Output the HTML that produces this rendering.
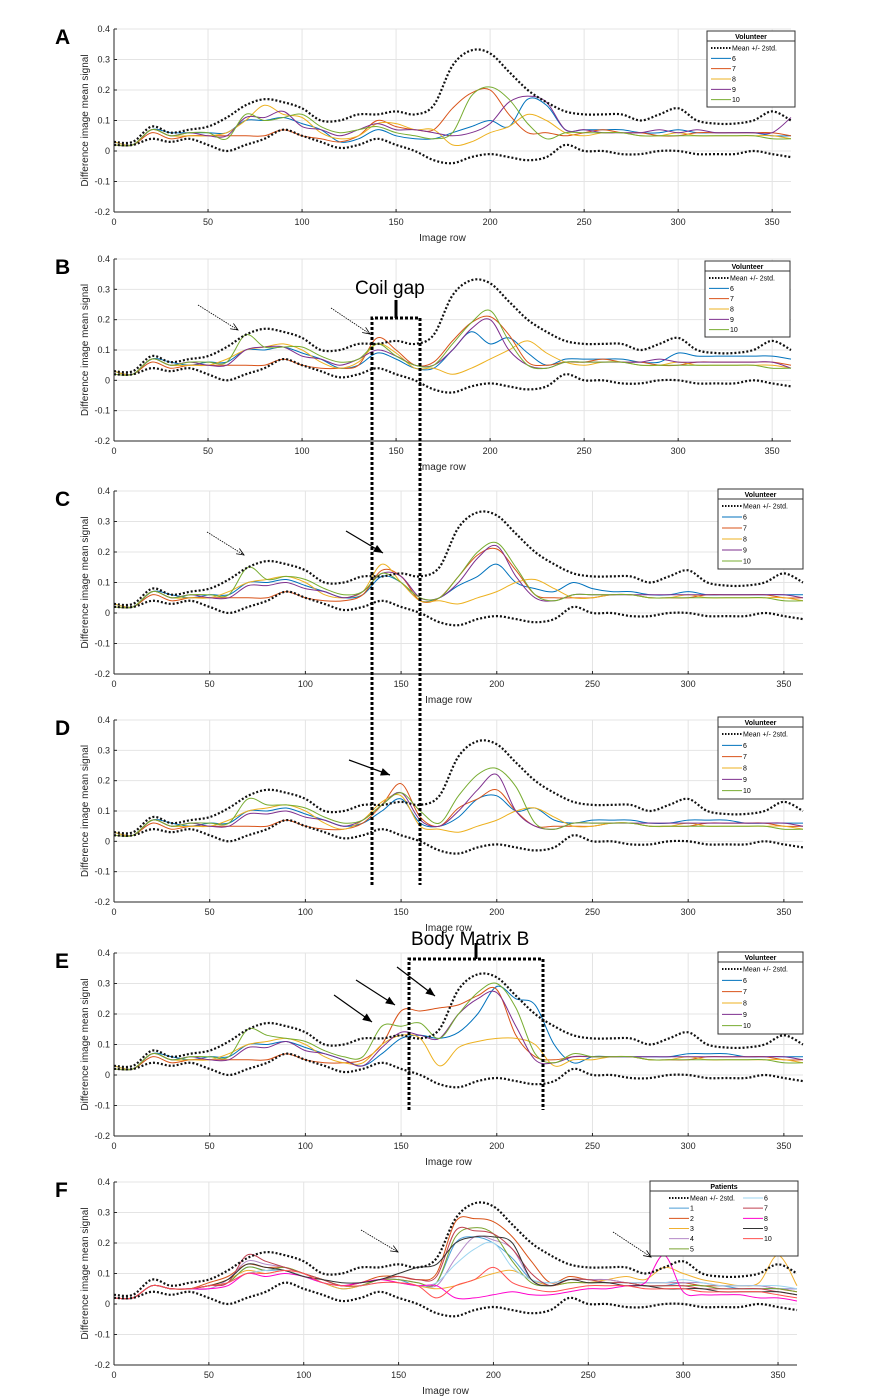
<!DOCTYPE html>
<html><head><meta charset="utf-8"><style>
html,body{margin:0;padding:0;background:#fff;}
svg{display:block;font-family:"Liberation Sans",sans-serif;}
</style></head><body>
<svg id="fig" width="889" height="1400" viewBox="0 0 889 1400"></svg>
<script>
// ---- data (values sampled every 10 image rows, 0..360) ----
const rows = [0,10,20,30,40,50,60,70,80,90,100,110,120,130,140,150,160,170,180,190,200,210,220,230,240,250,260,270,280,290,300,310,320,330,340,350,360];
const xTicks = [0,50,100,150,200,250,300,350];
const yTicks = [0.4,0.3,0.2,0.1,0,-0.1,-0.2];
const yTickLabels = ["0.4","0.3","0.2","0.1","0","-0.1","-0.2"];
const meanUpper = [.03,.03,.08,.06,.07,.08,.11,.15,.17,.16,.14,.10,.10,.12,.12,.13,.12,.15,.28,.33,.32,.26,.20,.16,.13,.12,.12,.12,.10,.12,.14,.10,.09,.09,.10,.13,.10];
const meanLower = [.02,.02,.04,.03,.04,.02,.00,.02,.04,.07,.05,.03,.01,.02,.04,.02,.00,-.03,-.04,-.02,-.01,-.02,-.03,-.02,.02,.00,.00,-.01,-.01,.00,.00,-.01,-.01,-.01,.00,-.01,-.02];
const volunteerLabels = ["6","7","8","9","10"];
const patientLabels = ["1","2","3","4","5","6","7","8","9","10"];
const volColors = ["#0072BD","#D95319","#EDB120","#7E2F8E","#77AC30"];
const patColors = ["#4a9ed8","#d95319","#f0b030","#b48ac8","#7aa330","#9dd5f0","#c04050","#ff00cc","#333333","#ff5050"];

const A6 = [.03,.02,.07,.06,.06,.06,.06,.10,.10,.11,.09,.07,.03,.04,.07,.05,.04,.04,.06,.08,.10,.08,.17,.15,.07,.07,.07,.07,.06,.06,.07,.06,.06,.06,.06,.05,.05];
const A7 = [.02,.02,.06,.04,.05,.05,.05,.05,.05,.07,.05,.04,.03,.05,.10,.08,.07,.07,.14,.19,.20,.12,.06,.06,.05,.06,.07,.06,.06,.05,.05,.06,.06,.06,.06,.06,.05];
const A8 = [.03,.02,.07,.05,.05,.05,.06,.10,.15,.12,.11,.06,.04,.05,.09,.09,.07,.07,.02,.03,.06,.08,.12,.10,.06,.05,.06,.06,.05,.05,.06,.05,.05,.05,.05,.05,.04];
const A9 = [.02,.02,.07,.05,.06,.05,.05,.11,.11,.13,.08,.07,.05,.07,.09,.07,.07,.06,.05,.06,.09,.16,.18,.16,.07,.07,.06,.06,.06,.07,.06,.07,.06,.06,.06,.06,.11];
const A10= [.02,.02,.07,.05,.06,.06,.04,.12,.10,.11,.12,.08,.06,.07,.08,.06,.05,.04,.06,.18,.21,.17,.09,.04,.06,.06,.06,.06,.05,.05,.05,.05,.05,.05,.05,.04,.04];

const B6 = [.03,.02,.07,.06,.05,.06,.06,.10,.10,.11,.09,.07,.04,.05,.09,.07,.04,.04,.10,.16,.12,.14,.09,.05,.07,.07,.07,.07,.06,.06,.09,.08,.08,.08,.08,.08,.07];
const B7 = [.02,.02,.06,.04,.05,.05,.05,.05,.05,.07,.05,.04,.04,.05,.14,.10,.05,.06,.13,.19,.21,.15,.06,.05,.06,.06,.07,.06,.06,.05,.05,.06,.06,.06,.06,.06,.05];
const B8 = [.03,.02,.07,.05,.05,.05,.07,.10,.11,.12,.10,.06,.04,.06,.12,.09,.04,.04,.02,.04,.07,.10,.13,.09,.06,.05,.06,.06,.05,.05,.06,.05,.05,.05,.05,.05,.04];
const B9 = [.02,.02,.07,.05,.06,.05,.05,.10,.11,.11,.08,.07,.05,.07,.10,.08,.05,.05,.10,.17,.20,.10,.05,.04,.06,.06,.06,.06,.06,.07,.06,.06,.06,.06,.06,.06,.04];
const B10= [.02,.02,.07,.05,.06,.06,.06,.15,.11,.11,.11,.08,.06,.07,.12,.08,.05,.05,.12,.19,.23,.13,.05,.04,.06,.06,.06,.06,.05,.05,.05,.05,.05,.05,.05,.04,.04];

const C6 = [.03,.02,.07,.06,.05,.06,.06,.10,.10,.11,.09,.07,.05,.06,.12,.10,.04,.05,.09,.12,.16,.10,.08,.07,.10,.08,.07,.07,.06,.06,.07,.06,.06,.06,.06,.06,.06];
const C7 = [.02,.02,.06,.04,.05,.05,.05,.05,.05,.07,.05,.04,.04,.06,.14,.12,.04,.05,.12,.19,.21,.14,.06,.05,.05,.05,.06,.06,.05,.05,.05,.06,.06,.06,.06,.05,.05];
const C8 = [.03,.02,.07,.05,.05,.05,.07,.10,.11,.12,.10,.06,.05,.07,.16,.10,.04,.04,.03,.05,.07,.10,.11,.08,.05,.05,.06,.06,.05,.05,.06,.05,.05,.05,.05,.05,.04];
const C9 = [.02,.02,.07,.05,.06,.05,.05,.09,.09,.10,.08,.07,.05,.07,.13,.12,.05,.05,.10,.18,.22,.12,.05,.04,.06,.06,.06,.06,.06,.06,.06,.06,.06,.06,.06,.06,.05];
const C10= [.02,.02,.07,.05,.06,.06,.06,.15,.11,.12,.11,.08,.06,.07,.13,.10,.05,.05,.12,.20,.23,.15,.06,.04,.06,.06,.06,.06,.05,.05,.05,.05,.05,.05,.05,.04,.04];

const D6 = [.03,.02,.07,.06,.05,.06,.06,.10,.10,.11,.09,.07,.05,.06,.10,.14,.06,.05,.08,.14,.15,.10,.11,.07,.06,.07,.07,.07,.06,.06,.07,.07,.07,.06,.06,.06,.06];
const D7 = [.02,.02,.06,.04,.05,.05,.05,.05,.05,.07,.05,.04,.04,.06,.12,.19,.08,.05,.11,.14,.17,.10,.05,.05,.05,.05,.06,.06,.05,.05,.05,.06,.06,.06,.06,.05,.05];
const D8 = [.03,.02,.07,.05,.05,.05,.07,.10,.11,.12,.10,.06,.04,.07,.13,.15,.05,.04,.03,.05,.07,.10,.11,.08,.05,.05,.06,.06,.05,.05,.06,.05,.05,.05,.05,.05,.04];
const D9 = [.02,.02,.07,.05,.06,.05,.05,.09,.09,.10,.08,.07,.05,.07,.12,.16,.07,.05,.10,.17,.22,.10,.05,.04,.06,.06,.06,.06,.06,.06,.06,.06,.06,.06,.06,.06,.05];
const D10= [.02,.02,.07,.05,.06,.06,.06,.14,.12,.12,.11,.08,.06,.07,.12,.16,.10,.06,.15,.22,.24,.18,.06,.04,.06,.06,.06,.06,.05,.05,.05,.05,.05,.05,.05,.04,.04];

const E6 = [.03,.02,.07,.06,.05,.06,.06,.10,.10,.11,.09,.07,.05,.03,.07,.12,.13,.12,.14,.20,.29,.25,.23,.10,.04,.06,.06,.06,.06,.06,.07,.07,.07,.06,.06,.06,.06];
const E7 = [.02,.02,.06,.04,.05,.05,.05,.05,.05,.07,.05,.04,.04,.05,.10,.21,.21,.22,.23,.26,.28,.13,.06,.05,.06,.06,.06,.06,.05,.05,.05,.06,.06,.06,.06,.05,.05];
const E8 = [.03,.02,.07,.05,.05,.05,.07,.10,.11,.12,.10,.06,.04,.04,.10,.13,.12,.03,.09,.11,.12,.12,.10,.03,.05,.05,.06,.06,.05,.05,.06,.05,.05,.05,.05,.05,.04];
const E9 = [.02,.02,.07,.05,.06,.05,.05,.09,.09,.11,.08,.07,.05,.03,.09,.14,.13,.12,.20,.25,.27,.16,.05,.04,.06,.06,.06,.06,.06,.06,.06,.06,.06,.06,.06,.06,.05];
const E10= [.02,.02,.07,.05,.06,.06,.06,.15,.13,.12,.11,.08,.06,.06,.16,.16,.17,.12,.20,.27,.30,.22,.07,.04,.07,.06,.06,.06,.05,.05,.05,.05,.05,.05,.05,.04,.04];

const F1 = [.02,.02,.06,.05,.05,.06,.07,.12,.11,.11,.09,.07,.05,.06,.08,.08,.06,.07,.20,.22,.20,.15,.08,.07,.08,.08,.07,.07,.06,.06,.07,.06,.06,.05,.05,.05,.05];
const F2 = [.02,.02,.06,.05,.05,.07,.09,.13,.12,.12,.10,.08,.06,.07,.09,.09,.08,.10,.27,.28,.27,.22,.14,.07,.09,.08,.08,.07,.07,.07,.07,.06,.06,.06,.06,.05,.04];
const F3 = [.02,.02,.06,.05,.05,.06,.08,.11,.10,.11,.09,.07,.05,.06,.08,.07,.06,.05,.06,.08,.10,.11,.08,.06,.07,.07,.08,.09,.08,.12,.10,.08,.07,.06,.07,.16,.06];
const F4 = [.02,.02,.06,.05,.05,.05,.08,.14,.13,.12,.10,.07,.06,.06,.08,.08,.07,.06,.15,.22,.21,.18,.08,.06,.08,.08,.08,.07,.07,.07,.07,.07,.06,.06,.06,.05,.05];
const F5 = [.02,.02,.06,.05,.05,.06,.07,.12,.11,.12,.10,.08,.06,.06,.08,.08,.07,.07,.22,.25,.23,.14,.07,.06,.07,.07,.07,.07,.06,.06,.06,.06,.05,.05,.05,.05,.04];
const F6 = [.02,.02,.06,.05,.05,.06,.07,.10,.11,.11,.09,.07,.06,.06,.07,.07,.06,.07,.13,.18,.20,.12,.08,.07,.08,.08,.07,.07,.07,.07,.08,.07,.06,.06,.06,.06,.05];
const F7 = [.02,.02,.06,.05,.05,.06,.07,.16,.14,.12,.10,.08,.06,.07,.08,.09,.08,.09,.24,.24,.23,.18,.10,.06,.08,.08,.07,.07,.06,.06,.06,.05,.05,.05,.05,.04,.03];
const F8 = [.02,.02,.06,.05,.05,.05,.06,.10,.09,.10,.09,.07,.06,.07,.08,.07,.06,.06,.02,.02,.03,.04,.03,.03,.04,.05,.05,.06,.07,.16,.04,.03,.03,.03,.02,.02,.01];
const F9 = [.02,.02,.06,.05,.05,.06,.08,.13,.12,.11,.09,.08,.07,.07,.08,.10,.12,.13,.20,.22,.22,.20,.08,.06,.08,.07,.07,.06,.06,.05,.05,.05,.04,.04,.04,.04,.03];
const F10= [.02,.02,.06,.05,.05,.06,.07,.10,.10,.11,.10,.07,.06,.06,.07,.07,.06,.02,.06,.08,.12,.07,.05,.04,.05,.06,.06,.06,.05,.05,.05,.04,.04,.04,.04,.03,.02];

const panels = [
 {id:"a", letter:"A", top:29, bottom:212, right:791, legend:[707,31,88,76], title:"Volunteer", series:[A6,A7,A8,A9,A10], labels:volunteerLabels, colors:volColors},
 {id:"b", letter:"B", top:259, bottom:441, right:791, legend:[705,261,85,76], title:"Volunteer", series:[B6,B7,B8,B9,B10], labels:volunteerLabels, colors:volColors},
 {id:"c", letter:"C", top:491, bottom:674, right:803, legend:[718,489,85,80], title:"Volunteer", series:[C6,C7,C8,C9,C10], labels:volunteerLabels, colors:volColors},
 {id:"d", letter:"D", top:720, bottom:902, right:803, legend:[718,717,85,82], title:"Volunteer", series:[D6,D7,D8,D9,D10], labels:volunteerLabels, colors:volColors},
 {id:"e", letter:"E", top:953, bottom:1136, right:803, legend:[718,952,85,82], title:"Volunteer", series:[E6,E7,E8,E9,E10], labels:volunteerLabels, colors:volColors},
 {id:"f", letter:"F", top:1182, bottom:1365, right:797, legend:[650,1181,148,75], title:"Patients", series:[F1,F2,F3,F4,F5,F6,F7,F8,F9,F10], labels:patientLabels, colors:patColors}
];

const NS="http://www.w3.org/2000/svg";
const svg=document.getElementById('fig');
function mk(tag,attrs,parent){const e=document.createElementNS(NS,tag);for(const k in attrs)e.setAttribute(k,attrs[k]);(parent||svg).appendChild(e);return e;}
function smoothPath(pts){
 let d="M"+pts[0][0].toFixed(1)+","+pts[0][1].toFixed(1);
 for(let i=0;i<pts.length-1;i++){
  const p0=pts[Math.max(0,i-1)],p1=pts[i],p2=pts[i+1],p3=pts[Math.min(pts.length-1,i+2)];
  const c1x=p1[0]+(p2[0]-p0[0])/6,c1y=p1[1]+(p2[1]-p0[1])/6,c2x=p2[0]-(p3[0]-p1[0])/6,c2y=p2[1]-(p3[1]-p1[1])/6;
  d+=" C"+c1x.toFixed(1)+","+c1y.toFixed(1)+" "+c2x.toFixed(1)+","+c2y.toFixed(1)+" "+p2[0].toFixed(1)+","+p2[1].toFixed(1);
 }
 return d;
}

panels.forEach(p=>{
 const L=114;
 const xs=v=>L+(v/360)*(p.right-L);
 const ys=v=>p.top+(0.4-v)/0.6*(p.bottom-p.top);
 const g=mk('g',{});
 
 
 const lt=mk('text',{x:55,y:p.top+15,'font-size':21,'font-weight':'bold'},g);
 lt.textContent=p.letter;
 
 
 // grid
 xTicks.forEach(t=>{mk('line',{x1:xs(t),x2:xs(t),y1:p.top,y2:p.bottom,stroke:'#e4e4e4','stroke-width':1},g);});
 yTicks.forEach(t=>{mk('line',{x1:L,x2:p.right,y1:ys(t),y2:ys(t),stroke:'#e4e4e4','stroke-width':1},g);});
 // axes
 mk('line',{x1:L,x2:L,y1:p.top,y2:p.bottom,stroke:'#262626','stroke-width':1},g);
 mk('line',{x1:L,x2:p.right,y1:p.bottom,y2:p.bottom,stroke:'#262626','stroke-width':1},g);
 xTicks.forEach(t=>{
  mk('line',{x1:xs(t),x2:xs(t),y1:p.bottom,y2:p.bottom-3,stroke:'#262626'},g);
  const tx=mk('text',{x:xs(t),y:p.bottom+13,'font-size':9,'text-anchor':'middle',fill:'#262626'},g);
  tx.textContent=String(t);
  
  
 });
 yTicks.forEach((t,i)=>{
  mk('line',{x1:L,x2:L+3,y1:ys(t),y2:ys(t),stroke:'#262626'},g);
  const ty=mk('text',{x:L-4,y:ys(t)+3,'font-size':9,'text-anchor':'end',fill:'#262626'},g);
  ty.textContent=yTickLabels[i];
  
  
 });
 const xl=mk('text',{x:(L+p.right)/2-10,y:p.bottom+29,'font-size':10,'text-anchor':'middle',fill:'#262626'},g);
 xl.textContent="Image row";
 
 
 const yc=(p.top+p.bottom)/2;
 const yl=mk('text',{x:88,y:yc,'font-size':10,'text-anchor':'middle',fill:'#262626',transform:'rotate(-90 88 '+yc+')'},g);
 yl.textContent="Difference image mean signal";
 
 
 // series
 p.series.forEach((s,i)=>{
  const path=mk('path',{d:smoothPath(rows.map((r,k)=>[xs(r),ys(s[k])])),fill:'none',stroke:p.colors[i],'stroke-width':1},g);
  
  
 });
 [meanUpper,meanLower].forEach((s,i)=>{
  const path=mk('path',{d:smoothPath(rows.map((r,k)=>[xs(r),ys(s[k])])),fill:'none',stroke:'#111','stroke-width':2.2,'stroke-dasharray':'2 2'},g);
  
  
 });
 // legend
 const [lx,ly,lw,lh]=p.legend;
 const lg=mk('g',{},g);
 
 
 mk('rect',{x:lx,y:ly,width:lw,height:lh,fill:'#fff',stroke:'#333','stroke-width':1},lg);
 mk('line',{x1:lx,x2:lx+lw,y1:ly+10,y2:ly+10,stroke:'#333'},lg);
 const tt=mk('text',{x:lx+lw/2,y:ly+8,'font-size':7,'font-weight':'bold','text-anchor':'middle'},lg);
 tt.textContent=p.title;
 const entries=["Mean +/- 2std."].concat(p.labels);
 const colors=["#111"].concat(p.colors);
 const twoCol=entries.length>6;
 const perCol=twoCol?6:entries.length;
 entries.forEach((e,i)=>{
  const col=twoCol?Math.floor(i/perCol):0, r=twoCol?i%perCol:i;
  const ex=lx+4+col*(lw/2)+(twoCol?15:0), ey=ly+17+r*(lh-14)/perCol;
  mk('line',{x1:ex,x2:ex+20,y1:ey,y2:ey,stroke:colors[i],'stroke-width':i?1:2,'stroke-dasharray':i?'none':'1.5 1.5'},lg);
  const et=mk('text',{x:ex+21,y:ey+2.5,'font-size':7},lg);
  et.textContent=e;
  
  
 });
});

// annotations
function arrow(x1,y1,x2,y2,dotted){
 const g=mk('g',{});
 
 
 mk('line',{x1:x1,y1:y1,x2:x2,y2:y2,stroke:'#000','stroke-width':dotted?0.8:1.2,'stroke-dasharray':dotted?'1.5 1':'none'},g);
 const a=Math.atan2(y2-y1,x2-x1),s=dotted?8:10;
 const p1=[x2-s*Math.cos(a-0.4),y2-s*Math.sin(a-0.4)],p2=[x2-s*Math.cos(a+0.4),y2-s*Math.sin(a+0.4)];
 if(dotted) mk('polyline',{points:p1.join(',')+' '+x2+','+y2+' '+p2.join(','),fill:'none',stroke:'#000','stroke-width':0.8},g);
 else mk('polygon',{points:p1.join(',')+' '+x2+','+y2+' '+p2.join(','),fill:'#000'},g);
}
arrow(198,305,238,330,true);arrow(331,308,370,334,true);
arrow(207,532,244,555,true);arrow(346,531,383,553,false);
arrow(349,760,390,775,false);
arrow(334,995,372,1022,false);arrow(356,980,395,1005,false);arrow(397,967,435,996,false);
arrow(361,1230,398,1252,true);arrow(613,1232,651,1257,true);

const cg=mk('g',{});


mk('path',{d:'M372,885 L372,318 L420,318 L420,885',fill:'none',stroke:'#000','stroke-width':3,'stroke-dasharray':'3 2'},cg);
mk('line',{x1:396,x2:396,y1:300,y2:318,stroke:'#000','stroke-width':3},cg);
const cgt=mk('text',{x:355,y:294,'font-size':19},cg);cgt.textContent="Coil gap";

const bm=mk('g',{});


mk('path',{d:'M409,1110 L409,959 L543,959 L543,1110',fill:'none',stroke:'#000','stroke-width':3,'stroke-dasharray':'3 2'},bm);
mk('line',{x1:476,x2:476,y1:943,y2:959,stroke:'#000','stroke-width':3},bm);
const bmt=mk('text',{x:411,y:945,'font-size':19},bm);bmt.textContent="Body Matrix B";
</script>
</body></html>
